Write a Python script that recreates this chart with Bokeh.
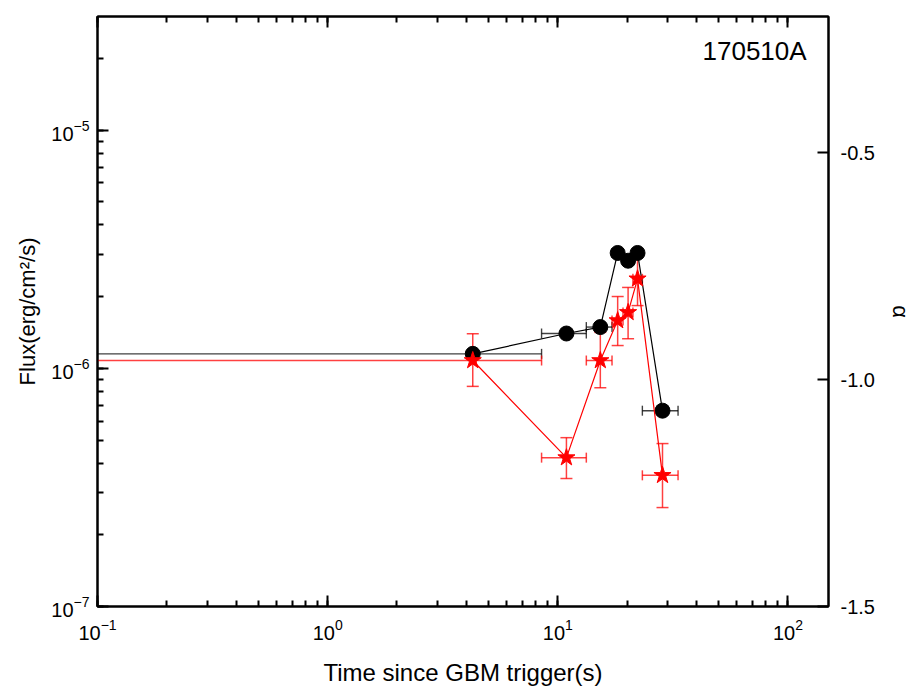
from bokeh.plotting import figure
from bokeh.models import (Range1d, LinearAxis, LinearScale, FixedTicker, PrintfTickFormatter,
                          Whisker, TeeHead, ColumnDataSource, Label, LogTicker)
from bokeh.embed import file_html
from bokeh.resources import INLINE

# ---- data ----
time = [4.27, 10.9, 15.3, 18.2, 20.2, 22.2, 28.5]
t_lo = [0.001, 8.5, 13.3, 17.2, 19.2, 21.2, 23.3]
t_hi = [8.5, 13.3, 17.2, 19.2, 21.2, 23.3, 33.3]
flux = [1.15e-6, 1.40e-6, 1.49e-6, 3.05e-6, 2.83e-6, 3.05e-6, 6.64e-7]
alpha = [-0.958, -1.172, -0.958, -0.870, -0.852, -0.778, -1.211]
alpha_lo = [-1.015, -1.218, -1.018, -0.925, -0.910, -0.837, -1.282]
alpha_hi = [-0.899, -1.128, -0.896, -0.817, -0.797, -0.718, -1.141]
grb_name = "170510A"
alpha_ticks = [-1.5, -1.0, -0.5]

FONT = "Liberation Sans"

src = ColumnDataSource(dict(time=time, t_lo=t_lo, t_hi=t_hi, flux=flux,
                            alpha=alpha, alpha_lo=alpha_lo, alpha_hi=alpha_hi))

p = figure(width=915, height=693, x_axis_type="log", y_axis_type="log",
           x_range=Range1d(0.1, 150), y_range=Range1d(1e-7, 3e-5),
           output_backend="svg", toolbar_location=None,
           min_border_left=97, min_border_right=86, min_border_top=16, min_border_bottom=87)
p.extra_y_ranges = {"alpha": Range1d(-1.5, -0.2)}
p.extra_y_scales = {"alpha": LinearScale()}
p.grid.visible = False
p.outline_line_color = "black"
p.outline_line_width = 2
p.background_fill_color = "white"
p.border_fill_color = "white"

def style_axis(ax):
    ax.axis_line_width = 2
    ax.axis_line_color = "black"
    ax.major_tick_in = 11
    ax.major_tick_out = 0
    ax.minor_tick_in = 6
    ax.minor_tick_out = 0
    ax.major_tick_line_width = 2
    ax.minor_tick_line_width = 2
    ax.major_tick_line_color = "black"
    ax.minor_tick_line_color = "black"
    ax.major_label_text_font = FONT
    ax.major_label_text_font_size = "20px"
    ax.major_label_text_color = "black"
    ax.axis_label_text_font = FONT
    ax.axis_label_text_font_size = "23px"
    ax.axis_label_text_font_style = "normal"
    ax.axis_label_text_color = "black"

xa = p.xaxis[0]
style_axis(xa)
xa.axis_label = "Time since GBM trigger(s)"
xa.axis_label_text_font_size = "24px"
xa.major_label_standoff = 12
xa.axis_label_standoff = 16

ya = p.yaxis[0]
style_axis(ya)
ya.axis_label = "Flux(erg/cm²/s)"
ya.axis_label_text_font_size = "22px"
ya.major_label_standoff = 8
ya.axis_label_standoff = 8

# mirrored top axis: ticks only (labels blank)
top = LinearAxis(ticker=LogTicker(num_minor_ticks=10), formatter=PrintfTickFormatter(format=" "))
style_axis(top)
top.major_label_standoff = 0
top.major_label_text_font_size = "8px"
top.major_label_text_alpha = 0
p.add_layout(top, "above")

# right alpha axis
ra = LinearAxis(y_range_name="alpha", ticker=FixedTicker(ticks=alpha_ticks, minor_ticks=[]),
                formatter=PrintfTickFormatter(format="%.1f"))
style_axis(ra)
ra.minor_tick_in = 0
ra.axis_label = "α"
ra.axis_label_text_font_size = "22px"
ra.major_label_standoff = 12
ra.axis_label_standoff = 10
p.add_layout(ra, "right")

# flux (black)
kb = dict(line_color="black", line_alpha=0.75, line_width=1.4)
p.add_layout(Whisker(source=src, base="flux", lower="t_lo", upper="t_hi", dimension="width", **kb,
                     upper_head=TeeHead(size=10, **kb), lower_head=TeeHead(size=10, **kb)))
p.line("time", "flux", source=src, line_color="black", line_width=1.2)
p.scatter("time", "flux", source=src, marker="circle", size=15, fill_color="black", line_color="black")

# alpha (red)
eb = dict(line_color="red", line_alpha=0.75, line_width=1.5)
p.add_layout(Whisker(source=src, base="alpha", lower="t_lo", upper="t_hi", dimension="width",
                     y_range_name="alpha", **eb,
                     upper_head=TeeHead(size=10, **eb), lower_head=TeeHead(size=10, **eb)))
p.add_layout(Whisker(source=src, base="time", lower="alpha_lo", upper="alpha_hi", dimension="height",
                     y_range_name="alpha", **eb,
                     upper_head=TeeHead(size=12, **eb), lower_head=TeeHead(size=12, **eb)))
p.line("time", "alpha", source=src, line_color="red", line_width=1.2, y_range_name="alpha")
p.scatter("time", "alpha", source=src, marker="star", size=18, fill_color="red", line_color="red",
          y_range_name="alpha")

p.add_layout(Label(x=71.6, y=2.14e-5, text=grb_name, text_font=FONT, text_font_size="26px",
                   text_align="center", text_baseline="middle", text_color="black"))

open("out.html", "w").write(file_html(p, INLINE))
